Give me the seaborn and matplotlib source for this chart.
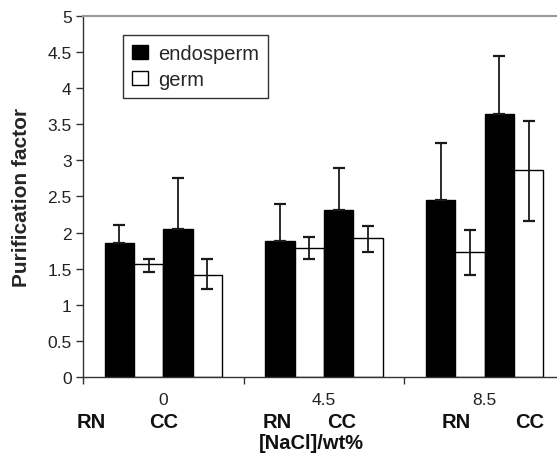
import matplotlib
matplotlib.use("Agg")
import matplotlib.pyplot as plt
import seaborn as sns
import pandas as pd
import numpy as np
from matplotlib.patches import Patch

# ---- data ----
nacl_levels = ["0", "4.5", "8.5"]
series = ["RN endosperm", "RN germ", "CC endosperm", "CC germ"]
rn_endosperm = [1.86, 1.88, 2.45]
rn_germ = [1.56, 1.79, 1.73]
cc_endosperm = [2.05, 2.31, 3.645]
cc_germ = [1.41, 1.925, 2.86]
# error bar tops / bottoms
rn_endosperm_hi = [2.11, 2.39, 3.235]
rn_germ_hi = [1.64, 1.94, 2.03]
rn_germ_lo = [1.46, 1.64, 1.41]
cc_endosperm_hi = [2.75, 2.89, 4.44]
cc_germ_hi = [1.63, 2.09, 3.55]
cc_germ_lo = [1.22, 1.73, 2.16]
method_labels = ["RN", "CC"]
legend_labels = ["endosperm", "germ"]

values = {"RN endosperm": rn_endosperm, "RN germ": rn_germ,
          "CC endosperm": cc_endosperm, "CC germ": cc_germ}
his = {"RN endosperm": rn_endosperm_hi, "RN germ": rn_germ_hi,
       "CC endosperm": cc_endosperm_hi, "CC germ": cc_germ_hi}
los = {"RN endosperm": rn_endosperm, "RN germ": rn_germ_lo,
       "CC endosperm": cc_endosperm, "CC germ": cc_germ_lo}

rows = []
for s in series:
    for i, lvl in enumerate(nacl_levels):
        rows.append({"NaCl": lvl, "series": s, "value": values[s][i],
                     "hi": his[s][i], "lo": los[s][i]})
df = pd.DataFrame(rows)

sns.set_style("white")
plt.rcParams['font.family'] = ['Liberation Sans', 'DejaVu Sans']

fig = plt.figure(figsize=(5.57, 4.56), dpi=100)
ax = fig.add_axes([0.1487, 0.1706, 0.8513, 0.7928])

palette = {"RN endosperm": "black", "RN germ": "white",
           "CC endosperm": "black", "CC germ": "white"}
sns.barplot(data=df, x="NaCl", y="value", hue="series", hue_order=series,
            order=nacl_levels, palette=palette, edgecolor="black",
            linewidth=1.0, width=0.73, gap=0, errorbar=None, legend=False, ax=ax)

# error bars at the bar centres produced by seaborn
for container, s in zip(ax.containers, series):
    sub = df[df["series"] == s].set_index("NaCl").loc[nacl_levels]
    xs = [p.get_x() + p.get_width() / 2 for p in container.patches]
    v = sub["value"].to_numpy()
    yerr = np.vstack([v - sub["lo"].to_numpy(), sub["hi"].to_numpy() - v])
    ax.errorbar(xs, v, yerr=yerr, fmt="none", ecolor="#1a1a1a",
                elinewidth=1.3, capsize=4.2, capthick=1.6, zorder=3)

ax.set_ylim(0, 5)
ax.set_xlim(-0.5, 2.45)
ax.set_yticks(np.arange(0, 5.01, 0.5))
ax.set_yticklabels(["0", "0.5", "1", "1.5", "2", "2.5", "3", "3.5", "4", "4.5", "5"])

# major ticks between groups (no labels), group labels as minor
ax.set_xticks([-0.5, 0.5, 1.5])
ax.set_xticklabels([])
ax.set_xticks([0, 1, 2], minor=True)
ax.set_xticklabels(nacl_levels, minor=True)
ax.tick_params(axis="x", which="major", direction="out", length=5, width=1, color="#333333", bottom=True)
ax.tick_params(axis="x", which="minor", length=0, pad=11, labelsize=12.5, labelcolor="#222222")
ax.tick_params(axis="y", direction="out", length=5, width=1, color="#333333", left=True,
               labelsize=12.5, labelcolor="#222222", pad=3)
ax.set_xlabel("")
ax.set_ylabel("Purification factor", fontsize=15, fontweight="bold", labelpad=12)

for side in ["left", "bottom"]:
    ax.spines[side].set_color("#333333")
    ax.spines[side].set_linewidth(1.0)
ax.spines["top"].set_color("#999999")
ax.spines["top"].set_linewidth(1.5)
ax.spines["right"].set_visible(False)

# RN / CC labels beneath each group
rn_cc_x = [-0.445, 0.002, 0.711, 1.111, 1.822, 2.28]
for k, xpos in enumerate(rn_cc_x):
    ax.text(xpos, -0.123, method_labels[k % 2], transform=ax.get_xaxis_transform(),
            ha="center", va="center", fontsize=14.5, fontweight="bold", color="#111111")
ax.text(0.92, -0.18, "[NaCl]/wt%", transform=ax.get_xaxis_transform(),
        ha="center", va="center", fontsize=14.5, fontweight="bold", color="#111111")

handles = [Patch(facecolor="black", edgecolor="black", label=legend_labels[0]),
           Patch(facecolor="white", edgecolor="black", label=legend_labels[1])]
leg = ax.legend(handles=handles, loc="upper left", bbox_to_anchor=(0.084, 0.9466),
                prop={"size": 14.5}, frameon=True, fancybox=False, edgecolor="black",
                handlelength=0.8, handleheight=0.7, handletextpad=0.5,
                borderpad=0.45, labelspacing=0.35, borderaxespad=0)
leg.get_frame().set_linewidth(1.0)

fig.savefig("out.png", dpi=100)
